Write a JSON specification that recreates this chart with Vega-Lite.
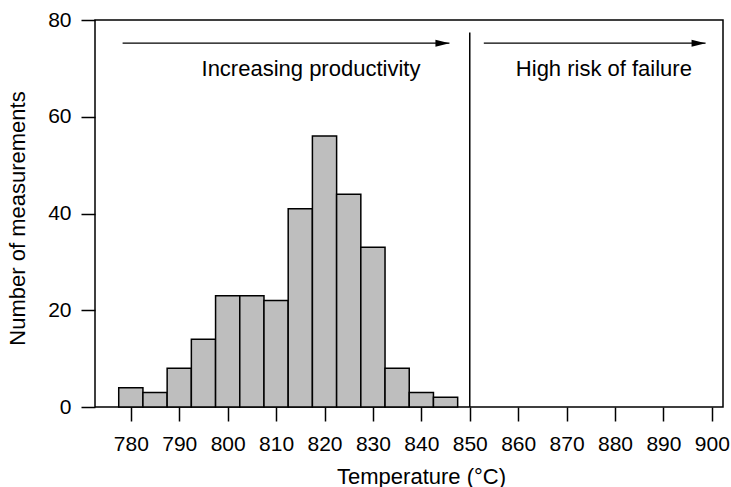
{
  "$schema": "https://vega.github.io/schema/vega-lite/v6.json",
  "width": 628,
  "height": 387,
  "autosize": "none",
  "padding": {"left": 95, "top": 20, "right": 8, "bottom": 80},
  "background": "white",
  "config": {
    "view": {"stroke": "black", "strokeWidth": 1.5},
    "font": "Liberation Sans",
    "axis": {
      "domain": false,
      "grid": false,
      "tickColor": "black",
      "tickWidth": 1.5,
      "tickSize": 14,
      "labelFont": "Liberation Sans",
      "labelFontSize": 21,
      "labelColor": "black",
      "titleFont": "Liberation Sans",
      "titleFontSize": 22,
      "titleFontWeight": "normal",
      "titleColor": "black"
    }
  },
  "datasets": {
    "bins": [
      {"start": 777.5, "end": 782.5, "count": 4},
      {"start": 782.5, "end": 787.5, "count": 3},
      {"start": 787.5, "end": 792.5, "count": 8},
      {"start": 792.5, "end": 797.5, "count": 14},
      {"start": 797.5, "end": 802.5, "count": 23},
      {"start": 802.5, "end": 807.5, "count": 23},
      {"start": 807.5, "end": 812.5, "count": 22},
      {"start": 812.5, "end": 817.5, "count": 41},
      {"start": 817.5, "end": 822.5, "count": 56},
      {"start": 822.5, "end": 827.5, "count": 44},
      {"start": 827.5, "end": 832.5, "count": 33},
      {"start": 832.5, "end": 837.5, "count": 8},
      {"start": 837.5, "end": 842.5, "count": 3},
      {"start": 842.5, "end": 847.5, "count": 2}
    ],
    "limit": [{"x": 850, "y": 0, "y2": 77.4}],
    "arrows": [
      {"x": 778.3, "x2": 845.8, "y": 75.2},
      {"x": 852.9, "x2": 898.7, "y": 75.2}
    ],
    "labels": [
      {"x": 817.2, "y": 68.5, "label": "Increasing productivity"},
      {"x": 877.7, "y": 68.5, "label": "High risk of failure"}
    ]
  },
  "layer": [
    {
      "data": {"name": "bins"},
      "mark": {"type": "rect", "fill": "#bebebe", "stroke": "black", "strokeWidth": 1.5},
      "encoding": {
        "x": {
          "field": "start", "type": "quantitative",
          "scale": {"domain": [772.6, 902.3], "nice": false, "zero": false},
          "axis": {"values": [780, 790, 800, 810, 820, 830, 840, 850, 860, 870, 880, 890, 900], "title": "Temperature (°C)", "labelPadding": 12, "titleX": 326, "titleY": 76, "titleBaseline": "alphabetic"}
        },
        "x2": {"field": "end"},
        "y": {
          "field": "count", "type": "quantitative",
          "scale": {"domain": [0, 80], "nice": false},
          "axis": {"values": [0, 20, 40, 60, 80], "title": "Number of measurements", "labelPadding": 10, "titleX": -78, "titleY": 198, "titleAngle": -90, "titleBaseline": "middle", "titleAlign": "center"}
        },
        "y2": {"datum": 0}
      }
    },
    {
      "data": {"name": "limit"},
      "mark": {"type": "rule", "color": "black", "strokeWidth": 1.5},
      "encoding": {
        "x": {"field": "x", "type": "quantitative"},
        "y": {"field": "y", "type": "quantitative"},
        "y2": {"field": "y2"}
      }
    },
    {
      "data": {"name": "arrows"},
      "mark": {"type": "rule", "color": "black", "strokeWidth": 1.2},
      "encoding": {
        "x": {"field": "x", "type": "quantitative"},
        "x2": {"field": "x2"},
        "y": {"field": "y", "type": "quantitative"}
      }
    },
    {
      "data": {"name": "arrows"},
      "mark": {"type": "point", "shape": "M-2,-0.5L0,0L-2,0.5Z", "size": 196, "filled": true, "fill": "black", "stroke": null, "opacity": 1},
      "encoding": {
        "x": {"field": "x2", "type": "quantitative"},
        "y": {"field": "y", "type": "quantitative"}
      }
    },
    {
      "data": {"name": "labels"},
      "mark": {"type": "text", "font": "Liberation Sans", "fontSize": 22, "align": "center", "baseline": "alphabetic", "color": "black"},
      "encoding": {
        "x": {"field": "x", "type": "quantitative"},
        "y": {"field": "y", "type": "quantitative"},
        "text": {"field": "label"}
      }
    }
  ]
}
